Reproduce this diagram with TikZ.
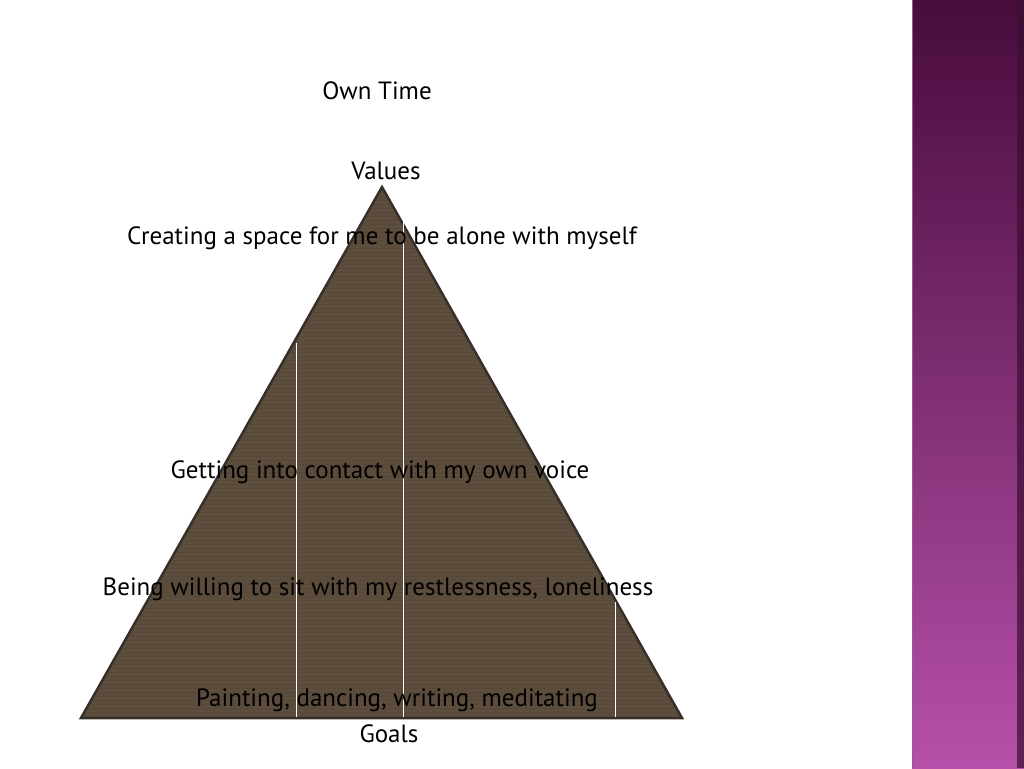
\documentclass[tikz,border=0pt]{standalone}
\usepackage{fontspec}
\setmainfont{PT Sans}
\definecolor{bandtop}{RGB}{72,12,60}
\definecolor{bandmid}{RGB}{118,42,108}
\definecolor{bandbot}{RGB}{182,80,170}
\definecolor{bandedge}{RGB}{60,14,50}
\definecolor{bandline}{RGB}{150,90,140}
\definecolor{pyrfill}{RGB}{92,77,60}
\definecolor{pyrtex}{RGB}{70,56,42}
\definecolor{pyrline}{RGB}{55,48,42}
\begin{document}
\begin{tikzpicture}[x=1pt,y=-1pt,
  lbl/.style={inner sep=0pt,anchor=center,font=\fontsize{25}{28}\selectfont,text=black},
  divider/.style={draw=white,line width=1pt}]
\useasboundingbox (0,0) rectangle (1024,768);
\fill[white] (0,0) rectangle (1024,768);
% purple side band
\shade[top color=bandtop,middle color=bandmid,bottom color=bandbot] (912,0) rectangle (1024,768);
\fill[bandedge,opacity=0.7] (1017,0) rectangle (1024,768);
\draw[bandline,line width=0.8pt] (912.5,0) -- (912.5,768);
% pyramid
\coordinate (apex) at (382,187);
\coordinate (bl) at (81,718);
\coordinate (br) at (682,718);
\fill[pyrfill] (apex) -- (br) -- (bl) -- cycle;
\begin{scope}
\clip (apex) -- (br) -- (bl) -- cycle;
\foreach \yy in {188,192,...,718}{
  \draw[pyrtex,opacity=0.2,line width=0.8pt] (60,\yy) -- (700,\yy);
}
\end{scope}
\draw[pyrline,line width=2.5pt,line join=miter] (apex) -- (br) -- (bl) -- cycle;
% white dividers
\coordinate (d1t) at (296,343); \coordinate (d1b) at (296,717);
\coordinate (d2t) at (403,222); \coordinate (d2b) at (403,717);
\coordinate (d3t) at (615,602); \coordinate (d3b) at (615,717);
\draw[divider] (d1t) -- (d1b);
\draw[divider] (d2t) -- (d2b);
\draw[divider] (d3t) -- (d3b);
% labels
\node[lbl] (own) at (377,91) {Own Time};
\node[lbl] (val) at (386,171) {Values};
\node[lbl] (t1) at (382,238) {Creating a space for me to be alone with myself};
\node[lbl] (t2) at (380,472) {Getting into contact with my own voice};
\node[lbl] (t3) at (378,589) {Being willing to sit with my restlessness, loneliness};
\node[lbl] (t4) at (397,700) {Painting, dancing, writing, meditating};
\node[lbl] (goals) at (389,734) {Goals};
\end{tikzpicture}
\end{document}
